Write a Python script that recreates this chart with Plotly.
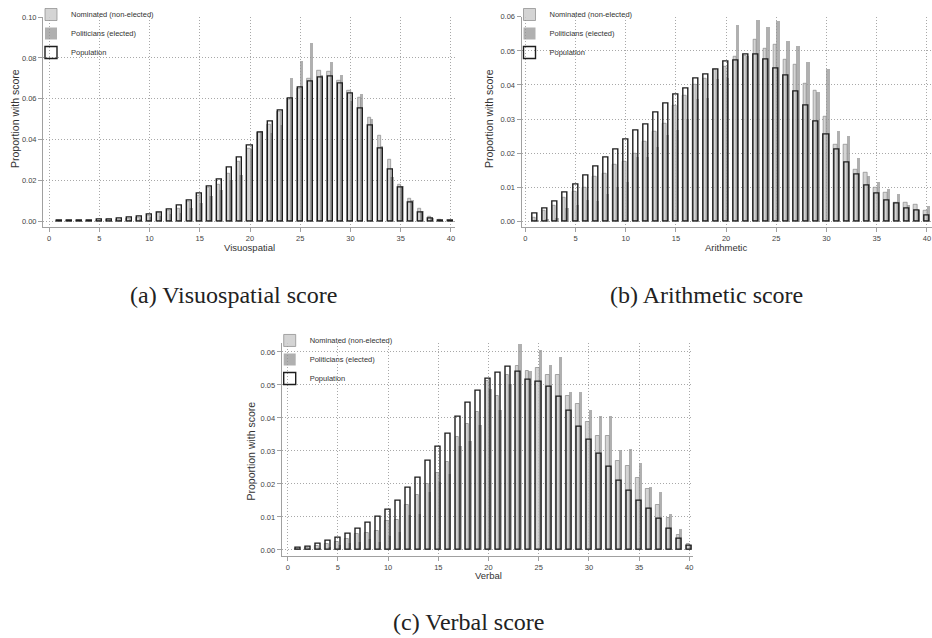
import plotly.graph_objects as go

W, H = 932, 638
scores = list(range(1, 41))

# ---------------- data ----------------
visuo_nominated = [0.0001, 0.0002, 0.0002, 0.0003, 0.0004, 0.0006, 0.0009, 0.0012, 0.0017, 0.0030,
                   0.0040, 0.0050, 0.0060, 0.0095, 0.0125, 0.0165, 0.0180, 0.0235, 0.0290, 0.0355,
                   0.0435, 0.0475, 0.0535, 0.0595, 0.0650, 0.0700, 0.0740, 0.0735, 0.0690, 0.0638,
                   0.0605, 0.0508, 0.0420, 0.0302, 0.0178, 0.0112, 0.0060, 0.0022, 0.0006, 0.0002]
visuo_politicians = [0.0001, 0.0001, 0.0002, 0.0002, 0.0003, 0.0004, 0.0006, 0.0009, 0.0012, 0.0025,
                     0.0030, 0.0038, 0.0040, 0.0065, 0.0090, 0.0125, 0.0155, 0.0205, 0.0230, 0.0355,
                     0.0445, 0.0435, 0.0475, 0.0705, 0.0785, 0.0877, 0.0717, 0.0781, 0.0718, 0.0590,
                     0.0625, 0.0503, 0.0372, 0.0220, 0.0175, 0.0107, 0.0052, 0.0018, 0.0005, 0.0003]
visuo_population = [0.0002, 0.0003, 0.0003, 0.0004, 0.0006, 0.0009, 0.0013, 0.0018, 0.0024, 0.0033,
                    0.0042, 0.0057, 0.0075, 0.0102, 0.0137, 0.0169, 0.0206, 0.0262, 0.0310, 0.0370,
                    0.0432, 0.0488, 0.0543, 0.0602, 0.0652, 0.0682, 0.0702, 0.0708, 0.0673, 0.0625,
                    0.0553, 0.0468, 0.0355, 0.0252, 0.0163, 0.0093, 0.0042, 0.0015, 0.0005, 0.0002]

arith_nominated = [0.0012, 0.0030, 0.0045, 0.0069, 0.0087, 0.0100, 0.0130, 0.0140, 0.0165, 0.0175,
                   0.0200, 0.0235, 0.0263, 0.0287, 0.0340, 0.0369, 0.0400, 0.0420, 0.0445, 0.0455,
                   0.0482, 0.0486, 0.0532, 0.0506, 0.0517, 0.0474, 0.0459, 0.0403, 0.0383, 0.0307,
                   0.0224, 0.0226, 0.0153, 0.0142, 0.0098, 0.0083, 0.0056, 0.0056, 0.0050, 0.0030]
arith_politicians = [0.0004, 0.0008, 0.0012, 0.0039, 0.0050, 0.0065, 0.0060, 0.0080, 0.0103, 0.0115,
                     0.0190, 0.0190, 0.0220, 0.0255, 0.0270, 0.0300, 0.0360, 0.0362, 0.0418, 0.0423,
                     0.0577, 0.0487, 0.0593, 0.0570, 0.0590, 0.0529, 0.0515, 0.0469, 0.0380, 0.0448,
                     0.0267, 0.0250, 0.0188, 0.0134, 0.0116, 0.0095, 0.0080, 0.0050, 0.0033, 0.0046]
arith_population = [0.0022, 0.0038, 0.0058, 0.0083, 0.0108, 0.0134, 0.0160, 0.0187, 0.0211, 0.0240,
                    0.0265, 0.0284, 0.0320, 0.0344, 0.0373, 0.0389, 0.0420, 0.0430, 0.0446, 0.0469,
                    0.0472, 0.0488, 0.0490, 0.0475, 0.0448, 0.0426, 0.0380, 0.0339, 0.0292, 0.0253,
                    0.0211, 0.0171, 0.0137, 0.0106, 0.0082, 0.0062, 0.0051, 0.0036, 0.0030, 0.0018]

verbal_nominated = [0.0003, 0.0006, 0.0012, 0.0018, 0.0025, 0.0034, 0.0049, 0.0052, 0.0058, 0.0088,
                    0.0090, 0.0138, 0.0167, 0.0200, 0.0233, 0.0268, 0.0343, 0.0381, 0.0418, 0.0513,
                    0.0468, 0.0530, 0.0558, 0.0543, 0.0552, 0.0530, 0.0530, 0.0467, 0.0442, 0.0387,
                    0.0345, 0.0346, 0.0270, 0.0254, 0.0218, 0.0185, 0.0137, 0.0098, 0.0045, 0.0018]
verbal_politicians = [0.0002, 0.0003, 0.0005, 0.0010, 0.0015, 0.0020, 0.0025, 0.0035, 0.0025, 0.0043,
                      0.0055, 0.0105, 0.0110, 0.0175, 0.0205, 0.0230, 0.0315, 0.0332, 0.0380, 0.0488,
                      0.0423, 0.0504, 0.0623, 0.0543, 0.0607, 0.0561, 0.0584, 0.0480, 0.0480, 0.0425,
                      0.0407, 0.0407, 0.0302, 0.0305, 0.0265, 0.0190, 0.0175, 0.0110, 0.0065, 0.0015]
verbal_population = [0.0005, 0.0009, 0.0017, 0.0026, 0.0036, 0.0048, 0.0063, 0.0081, 0.0099, 0.0122,
                     0.0148, 0.0187, 0.0219, 0.0269, 0.0311, 0.0351, 0.0402, 0.0445, 0.0483, 0.0518,
                     0.0538, 0.0554, 0.0540, 0.0515, 0.0508, 0.0494, 0.0465, 0.0421, 0.0373, 0.0334,
                     0.0290, 0.0252, 0.0210, 0.0180, 0.0148, 0.0123, 0.0094, 0.0065, 0.0033, 0.0011]

series_names = ["Nominated (non-elected)", "Politicians (elected)", "Population"]
x_titles = ["Visuospatial", "Arithmetic", "Verbal"]
captions = ["(a) Visuospatial score", "(b) Arithmetic score", "(c) Verbal score"]
y_title = "Proportion with score"
x_ticks = [0, 5, 10, 15, 20, 25, 30, 35, 40]
y_ticks = [[0.00, 0.02, 0.04, 0.06, 0.08, 0.10],
           [0.00, 0.01, 0.02, 0.03, 0.04, 0.05, 0.06],
           [0.00, 0.01, 0.02, 0.03, 0.04, 0.05, 0.06]]

panels = [
    (visuo_nominated, visuo_politicians, visuo_population),
    (arith_nominated, arith_politicians, arith_population),
    (verbal_nominated, verbal_politicians, verbal_population),
]

# ---------------- layout geometry (pixels) ----------------
def fx(px):
    return px / W

def fy(py):
    return 1 - py / H

# (left px, right px, top px, bottom px, x range, y range)
geom = [
    (43, 455, 12.7, 224, [-0.6, 40.4], [-0.0026, 0.1002]),
    (521.5, 932, 12.7, 224, [-0.38, 40.51], [-0.00155, 0.06005]),
    (281.7, 693, 341, 555, [-0.6, 40.37], [-0.0017, 0.06275]),
]

fig = go.Figure()

nom_style = dict(color="rgba(205,205,205,0.85)", line=dict(color="rgba(135,135,135,1)", width=0.7))
pol_style = dict(color="rgba(150,150,150,0.75)", line=dict(width=0))
pop_style = dict(color="rgba(0,0,0,0)", line=dict(color="#1e1e1e", width=1.4))

for i, (nom, pol, pop) in enumerate(panels):
    suffix = "" if i == 0 else str(i + 1)
    xa, ya = "x" + suffix, "y" + suffix
    leg = "legend" + suffix
    fig.add_trace(go.Bar(x=scores, y=nom, name=series_names[0], marker=nom_style,
                         offset=-0.3, width=0.35, xaxis=xa, yaxis=ya, legend=leg))
    fig.add_trace(go.Bar(x=scores, y=pol, name=series_names[1], marker=pol_style,
                         offset=-0.05, width=0.33, xaxis=xa, yaxis=ya, legend=leg))
    fig.add_trace(go.Bar(x=scores, y=pop, name=series_names[2], marker=pop_style,
                         offset=-0.25, width=0.5, xaxis=xa, yaxis=ya, legend=leg))

axis_color = "#a0a0a0"
grid_color = "#a8a8a8"
grid_dash = "1px,2px"
tick_font = dict(family="Liberation Sans, Arial, sans-serif", size=7.5, color="#444444")

layout = dict(
    width=W, height=H, autosize=False,
    margin=dict(l=0, r=0, t=0, b=0),
    paper_bgcolor="white", plot_bgcolor="white",
    barmode="overlay", bargap=0,
    showlegend=True,
)

annotations = []
for i, (l, r, t, b, xr, yr) in enumerate(geom):
    suffix = "" if i == 0 else str(i + 1)
    layout["xaxis" + suffix] = dict(
        domain=[fx(l), fx(r)], range=xr, anchor="y" + suffix,
        tickmode="array", tickvals=x_ticks, ticks="outside", ticklen=4, tickcolor=axis_color,
        showline=True, linecolor=axis_color, linewidth=1, mirror=False,
        showgrid=True, gridcolor=grid_color, griddash=grid_dash, gridwidth=1,
        zeroline=False, tickfont=tick_font, fixedrange=True, ticklabeloverflow="allow",
    )
    layout["yaxis" + suffix] = dict(
        domain=[fy(b), fy(t)], range=yr, anchor="x" + suffix,
        tickmode="array", tickvals=y_ticks[i], tickformat=".2f",
        ticks="outside", ticklen=4, tickcolor=axis_color,
        showline=True, linecolor=axis_color, linewidth=1,
        showgrid=True, gridcolor=grid_color, griddash=grid_dash, gridwidth=1,
        zeroline=False, tickfont=tick_font, fixedrange=True,
    )
    layout["legend" + suffix] = dict(
        x=fx(l - 12), y=fy(t - 17), xanchor="left", yanchor="top",
        bgcolor="rgba(0,0,0,0)", borderwidth=0, tracegroupgap=0,
        font=dict(family="Liberation Sans, Arial, sans-serif", size=7.5, color="#333333"),
        itemwidth=30, traceorder="normal",
    )

# axis titles and captions
title_font = dict(family="Liberation Sans, Arial, sans-serif", size=9.5, color="#333333")
ytitle_font = dict(family="Liberation Sans, Arial, sans-serif", size=10.5, color="#333333")
cap_font = dict(family="Liberation Serif, Times New Roman, serif", size=24, color="#222222")

xtitle_pos = [(250, 245), (726, 245.5), (488.5, 575)]
ytitle_pos = [(15, 115.7), (489, 115.7), (250.7, 449.6)]
caption_pos = [(233, 293), (706, 293), (468.5, 622)]

for i in range(3):
    annotations.append(dict(text=x_titles[i], x=fx(xtitle_pos[i][0]), y=fy(xtitle_pos[i][1]),
                            xref="paper", yref="paper", showarrow=False,
                            xanchor="center", yanchor="middle", font=title_font))
    annotations.append(dict(text=y_title, x=fx(ytitle_pos[i][0]), y=fy(ytitle_pos[i][1]),
                            xref="paper", yref="paper", showarrow=False, textangle=-90,
                            xanchor="center", yanchor="middle", font=ytitle_font))
    annotations.append(dict(text=captions[i], x=fx(caption_pos[i][0]), y=fy(caption_pos[i][1]),
                            xref="paper", yref="paper", showarrow=False,
                            xanchor="center", yanchor="middle", font=cap_font))

layout["annotations"] = annotations
fig.update_layout(**layout)

fig.write_html("out.html", config={"displayModeBar": False},
               post_script="document.body.style.margin='0';document.body.style.overflow='hidden';")
